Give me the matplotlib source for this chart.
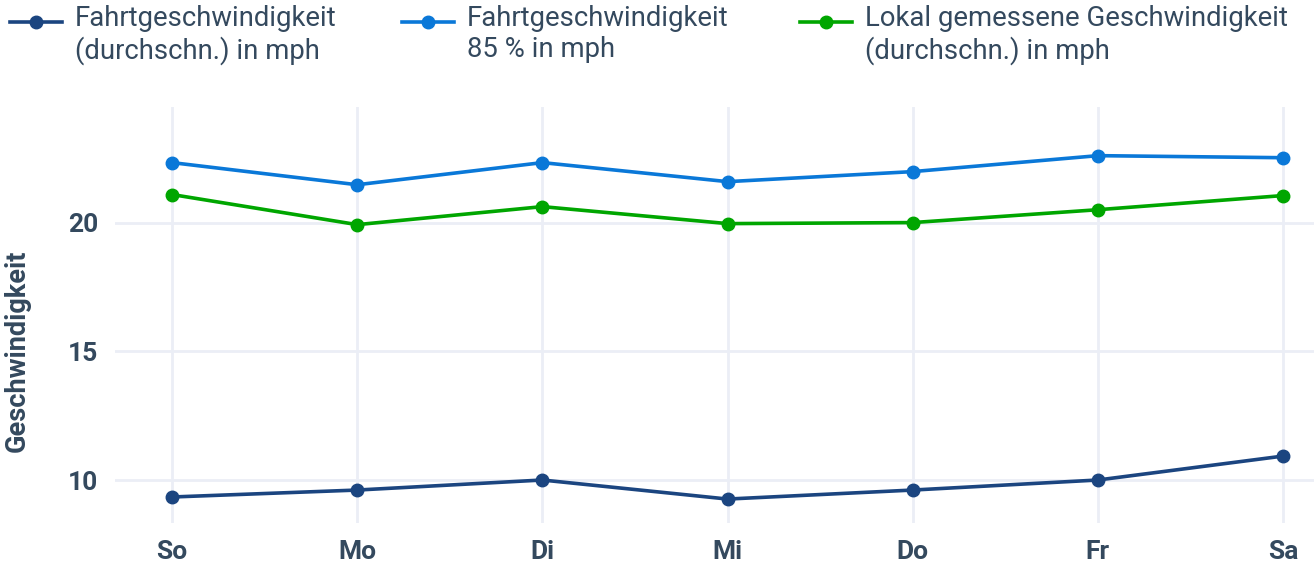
import matplotlib.pyplot as plt
from matplotlib.lines import Line2D

plt.rcParams['font.family'] = ['Roboto', 'DejaVu Sans']

days = ['So', 'Mo', 'Di', 'Mi', 'Do', 'Fr', 'Sa']
avg_speed = [9.34, 9.61, 10.0, 9.26, 9.61, 10.0, 10.93]
speed_85 = [22.33, 21.47, 22.33, 21.59, 21.98, 22.6, 22.52]
local_speed = [21.09, 19.92, 20.62, 19.96, 20.0, 20.5, 21.05]

labels = ['Fahrtgeschwindigkeit\n(durchschn.) in mph',
          'Fahrtgeschwindigkeit\n85 % in mph',
          'Lokal gemessene Geschwindigkeit\n(durchschn.) in mph']
colors = ['#1b4580', '#0a78d8', '#00a600']
text_col = '#34495e'
grid_col = '#ebeef6'

W, H = 1314, 563
fig = plt.figure(figsize=(W / 100, H / 100), dpi=100)
ax = fig.add_axes([115 / W, 1 - 523 / H, (W - 115) / W, (523 - 107) / H])

x = list(range(len(days)))
for vals, c in zip([avg_speed, speed_85, local_speed], colors):
    ax.plot(x, vals, color=c, lw=2.6, marker='o', ms=9, zorder=3)

ax.set_xlim(-0.308, 6.167)
ax.set_ylim(8.33, 24.49)
ax.set_yticks([10, 15, 20])
ax.set_xticks(x)
ax.set_xticklabels(days)
ax.grid(True, color=grid_col, lw=2)
ax.set_axisbelow(True)
for s in ax.spines.values():
    s.set_visible(False)
ax.tick_params(length=0, colors=text_col, labelsize=19)
for lab in ax.get_xticklabels() + ax.get_yticklabels():
    lab.set_fontweight('bold')
ax.tick_params(axis='y', pad=12)
ax.tick_params(axis='x', pad=12)
ax.set_ylabel('Geschwindigkeit', fontsize=19.5, color=text_col,
              fontweight='bold')
ax.yaxis.set_label_coords(-0.070, 0.413)

# legend across the top, handle aligned with first text line
legend_x = [10, 402, 800]
for lx, lab, c in zip(legend_x, labels, colors):
    y0 = 1 - 22 / H
    fig.add_artist(Line2D([lx / W, (lx + 52) / W], [y0, y0], color=c, lw=2.6,
                          transform=fig.transFigure))
    fig.add_artist(Line2D([(lx + 26) / W], [y0], color=c, marker='o', ms=9,
                          transform=fig.transFigure))
    fig.text((lx + 65) / W, 1 - 5 / H, lab, fontsize=19.8, color=text_col,
             va='top', ha='left', linespacing=1.18)

fig.savefig('out.png', dpi=100)
